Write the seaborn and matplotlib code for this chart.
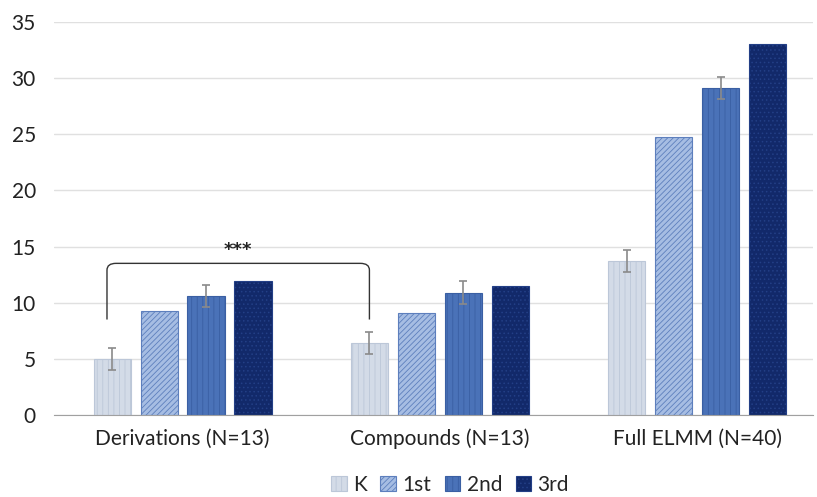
import pandas as pd
import matplotlib.pyplot as plt
import seaborn as sns
from matplotlib.path import Path
from matplotlib.patches import PathPatch

# data
groups = ['Derivations (N=13)', 'Compounds (N=13)', 'Full ELMM (N=40)']
grades = ['K', '1st', '2nd', '3rd']
k_vals = [5.0, 6.4, 13.7]
first_vals = [9.3, 9.1, 24.75]
second_vals = [10.6, 10.9, 29.1]
third_vals = [11.9, 11.5, 33.0]
k_err = [0.95, 1.0, 1.0]
second_err = [1.0, 1.0, 1.0]

rows = []
for grade, vals in zip(grades, [k_vals, first_vals, second_vals, third_vals]):
    for g, v in zip(groups, vals):
        rows.append({'group': g, 'grade': grade, 'value': v})
df = pd.DataFrame(rows)

sns.set_style('white')
plt.rcParams['font.family'] = ['Lato', 'DejaVu Sans']
plt.rcParams['hatch.linewidth'] = 0.6

faces = ['#d3dbe7', '#a6bde3', '#4a72b8', '#12296a']
edges = ['#bcc7d8', '#5d7fbd', '#3a5fa3', '#233f86']
hatches = ['|||', '//////', '|||', '....']

fig = plt.figure(figsize=(8.17, 4.97), dpi=100)
ax = fig.add_axes([0.066, 0.165, 0.929, 0.791])

sns.barplot(data=df, x='group', y='value', hue='grade', hue_order=grades,
            palette=faces, width=0.73, gap=0.21, errorbar=None, ax=ax,
            legend=True)

for cont, fc, ec, h in zip(ax.containers, faces, edges, hatches):
    for bar in cont:
        bar.set_facecolor(fc)
        bar.set_edgecolor(ec)
        bar.set_hatch(h)
        bar.set_linewidth(0.8)

# error bars on K and 2nd
for cont, errs in [(ax.containers[0], k_err), (ax.containers[2], second_err)]:
    xs = [b.get_x() + b.get_width() / 2 for b in cont]
    ys = [b.get_height() for b in cont]
    ax.errorbar(xs, ys, yerr=errs, fmt='none', ecolor='#8a8a8a',
                elinewidth=1.2, capsize=3, capthick=1.2, zorder=5)

# significance bracket between Derivations K and Compounds K
kb = ax.containers[0]
x1 = kb[0].get_x() + kb[0].get_width() / 2 - 0.02
x2 = kb[1].get_x() + kb[1].get_width() / 2
ylo, yhi = 8.5, 13.5
dx, dy = 0.035, 0.6
verts = [(x1, ylo), (x1, yhi - dy), (x1, yhi), (x1 + dx, yhi),
         (x2 - dx, yhi), (x2, yhi), (x2, yhi - dy), (x2, ylo)]
codes = [Path.MOVETO, Path.LINETO, Path.CURVE3, Path.CURVE3,
         Path.LINETO, Path.CURVE3, Path.CURVE3, Path.LINETO]
ax.add_patch(PathPatch(Path(verts, codes), fill=False, edgecolor='#333333', lw=1.0))
ax.text((x1 + x2) / 2, 13.9, '***', ha='center', va='bottom', fontsize=13,
        fontweight='heavy', color='#222222', family='DejaVu Sans')

ax.set_ylim(0, 35)
ax.set_xlim(-0.5, 2.45)
ax.set_yticks(range(0, 36, 5))
ax.yaxis.grid(True, color='#e0e0e0', lw=1)
ax.set_axisbelow(True)
ax.set_xlabel('')
ax.set_ylabel('')
for s in ['top', 'right', 'left']:
    ax.spines[s].set_visible(False)
ax.spines['bottom'].set_color('#a0a0a0')
ax.tick_params(axis='both', length=0, labelsize=15, colors='#222222')
ax.tick_params(axis='y', pad=13)
ax.tick_params(axis='x', pad=10)

handles, labels = ax.get_legend_handles_labels()
leg = ax.legend(handles, labels, loc='center', bbox_to_anchor=(0.522, -0.178),
                ncol=4, frameon=False, fontsize=15, handlelength=0.75,
                handleheight=0.75, handletextpad=0.3, columnspacing=0.65,
                borderpad=0)
for hnd, fc, ec, h in zip(leg.legend_handles, faces, edges, hatches):
    hnd.set_facecolor(fc)
    hnd.set_edgecolor(ec)
    hnd.set_hatch(h)
    hnd.set_linewidth(0.8)

plt.savefig('out.png', dpi=100)
